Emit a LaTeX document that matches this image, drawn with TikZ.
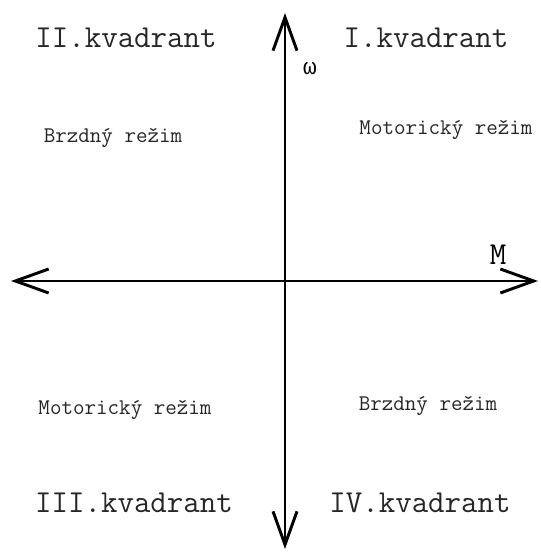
\documentclass[tikz,border=0pt]{standalone}
\usepackage{fontspec}
\newfontfamily\greekmono{Liberation Mono}
\usetikzlibrary{arrows.meta}

\tikzset{
    axis/.style={line width=2.2pt, {Straight Barb[length=25pt,width=18pt]}-{Straight Barb[length=25pt,width=18pt]}},
    quadlabel/.style={anchor=base, inner sep=0pt, text=black!85, font=\ttfamily\fontsize{24}{28}\selectfont},
    modelabel/.style={anchor=base, inner sep=0pt, text=black!85, font=\ttfamily\fontsize{16.8}{20}\selectfont},
    axislabel/.style={anchor=base, inner sep=0pt, font=\ttfamily\fontsize{24}{28}\selectfont}
}

\begin{document}
\begin{tikzpicture}[x=0.75pt,y=0.75pt]
    \useasboundingbox (0,0) rectangle (541,552);
    % axes
    \coordinate (west) at (11,271);
    \coordinate (east) at (538,271);
    \coordinate (north) at (285,539);
    \coordinate (south) at (285,3);
    \draw[axis] (west) -- (east);
    \draw[axis] (south) -- (north);
    \node[axislabel] (M) at (498,287) {M};
    \node[axislabel, font=\greekmono\fontsize{17}{20}\selectfont] (omega) at (310,477) {ω};
    % quadrants
    \node[quadlabel] (q1) at (426,504) {I.kvadrant};
    \node[quadlabel] (q2) at (126,504) {II.kvadrant};
    \node[quadlabel] (q3) at (134,39) {III.kvadrant};
    \node[quadlabel] (q4) at (420,39) {IV.kvadrant};
    % modes
    \node[modelabel] (m1) at (446,417) {Motorický režim};
    \node[modelabel] (m2) at (113,409) {Brzdný režim};
    \node[modelabel] (m3) at (125,137) {Motorický režim};
    \node[modelabel] (m4) at (428,141) {Brzdný režim};
\end{tikzpicture}
\end{document}
